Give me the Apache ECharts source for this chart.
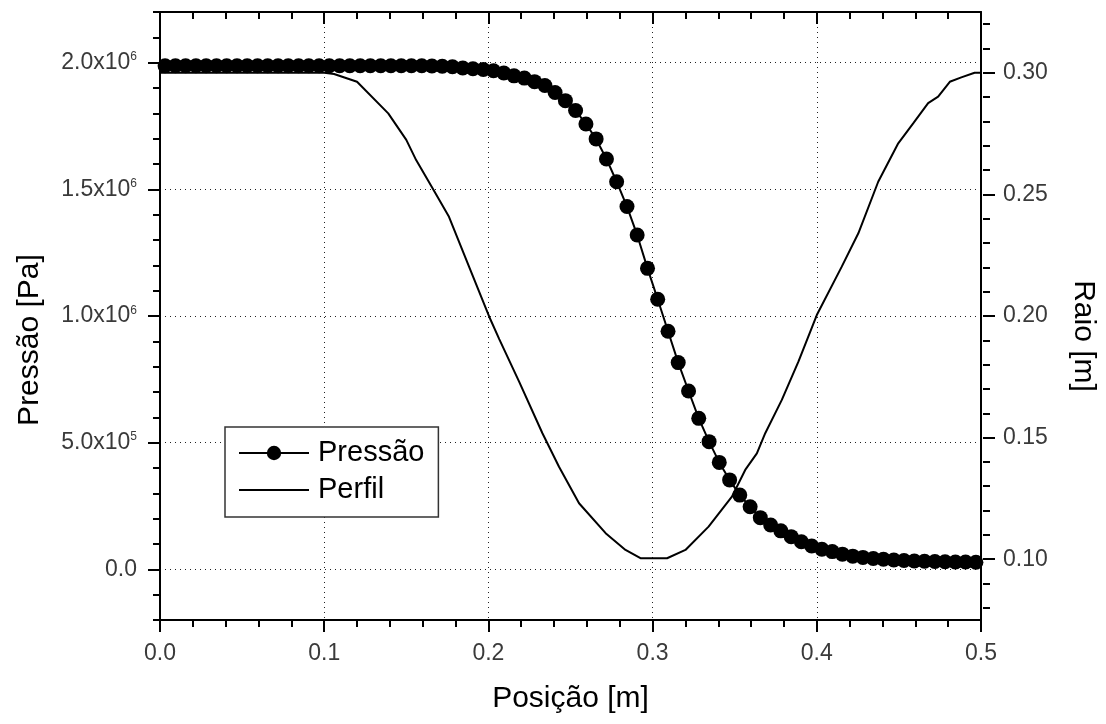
<!DOCTYPE html>
<html>
<head>
<meta charset="utf-8">
<script src="https://cdn.jsdelivr.net/npm/echarts@6/dist/echarts.min.js"></script>
<style>
html,body{margin:0;padding:0;background:#fff;}
#chart{width:1106px;height:724px;}
</style>
</head>
<body>
<div id="chart"></div>
<script>
// ---- data ----
const posicao = [0.0031,0.0094,0.0156,0.0219,0.0281,0.0344,0.0406,0.0469,0.0531,0.0594,
0.0656,0.0719,0.0781,0.0844,0.0906,0.0969,0.1031,0.1094,0.1156,0.1219,
0.1281,0.1344,0.1406,0.1469,0.1531,0.1594,0.1656,0.1719,0.1781,0.1844,
0.1906,0.1969,0.2031,0.2094,0.2156,0.2219,0.2281,0.2344,0.2406,0.2469,
0.2531,0.2594,0.2656,0.2719,0.2781,0.2844,0.2906,0.2969,0.3031,0.3094,
0.3156,0.3219,0.3281,0.3344,0.3406,0.3469,0.3531,0.3594,0.3656,0.3719,
0.3781,0.3844,0.3906,0.3969,0.4031,0.4094,0.4156,0.4219,0.4281,0.4344,
0.4406,0.4469,0.4531,0.4594,0.4656,0.4719,0.4781,0.4844,0.4906,0.4969];

const pressao = [1988000,1988000,1988000,1988000,1988000,1988000,1988000,1988000,1988000,1988000,
1988000,1988000,1988000,1988000,1988000,1988000,1988000,1988000,1988000,1988000,
1988000,1988000,1988000,1988000,1988000,1988000,1987000,1986000,1984000,1979000,
1976000,1973000,1968000,1959000,1948000,1939000,1925000,1910000,1882000,1850000,
1811000,1758000,1699000,1620000,1530000,1432000,1320000,1188000,1066000,940000,
816000,704000,596000,504000,422000,353000,293000,247000,204000,175000,
152000,129000,109000,92000,79000,70000,60000,52000,47000,43000,
40000,37000,35000,33000,32000,31000,30000,29000,29000,28000];

const perfilX = [0,0.100,0.106,0.120,0.139,0.150,0.156,0.166,0.176,0.189,
0.2005,0.2066,0.2187,0.2329,0.243,0.2552,0.2714,0.2835,0.2926,0.3088,
0.320,0.3341,0.3483,0.3564,0.3635,0.3686,0.3787,0.3888,0.400,0.4152,
0.4253,0.4374,0.4496,0.4587,0.4678,0.4739,0.481,0.488,0.4961,0.500];
const perfilR = [0.300,0.300,0.2995,0.2963,0.2833,0.2724,0.2641,0.2525,0.2408,0.2190,
0.1997,0.1905,0.1730,0.1518,0.1380,0.1230,0.1107,0.1038,0.1004,0.1004,
0.1038,0.1134,0.1257,0.1367,0.1435,0.1518,0.1655,0.1812,0.2004,0.2203,
0.2340,0.2552,0.2710,0.2792,0.2875,0.2902,0.2963,0.2981,0.3000,0.3000];

const xTickLabels = ['0.0','0.1','0.2','0.3','0.4','0.5'];
const leftTickMantissa = ['0.0','5.0x10','1.0x10','1.5x10','2.0x10'];
const leftTickExponent = ['','5','6','6','6'];
const rightTickLabels = ['0.10','0.15','0.20','0.25','0.30'];

// ---- chart ----
const FONT = "'Liberation Sans', Arial, sans-serif";
const LBL = '#3a3a3a';
const L = 160, R = 123, T = 12, B = 104; // plot frame
const H = 724 - T - B; // 608
function yPix(v, lo, hi){ return T + (hi - v) / (hi - lo) * H; }
const pLo = -200000, pHi = 2200000;
const rLo = 0.075, rHi = 0.325;
const gMajorL = {top: yPix(2000000,pLo,pHi), bottom: 724 - yPix(0,pLo,pHi)};
const gMinorR = {top: yPix(0.32,rLo,rHi), bottom: 724 - yPix(0.08,rLo,rHi)};
const gMajorR = {top: yPix(0.30,rLo,rHi), bottom: 724 - yPix(0.10,rLo,rHi)};

const axisLineS = {show:true, onZero:false, lineStyle:{color:'#000', width:2}};
const gridDot = {show:true, lineStyle:{color:'#222', width:1, type:[1,4]}};

const chart = echarts.init(document.getElementById('chart'), null, {renderer:'canvas'});
const option = {
  animation:false,
  backgroundColor:'#fff',
  textStyle:{fontFamily:FONT},
  grid:[
    {left:L, right:R, top:T, bottom:B},
    {left:L, right:R, top:gMajorL.top, bottom:gMajorL.bottom},
    {left:L, right:R, top:gMinorR.top, bottom:gMinorR.bottom},
    {left:L, right:R, top:gMajorR.top, bottom:gMajorR.bottom}
  ],
  xAxis:[
    {type:'value', gridIndex:0, position:'bottom', min:0, max:0.5, interval:0.1,
     axisLine:axisLineS,
     axisTick:{show:true, length:12, lineStyle:{color:'#000', width:2}},
     minorTick:{show:true, splitNumber:5, length:7, lineStyle:{color:'#000', width:2}},
     axisLabel:{show:true, margin:22, fontSize:23, color:LBL, fontFamily:FONT,
       formatter:function(v){ return xTickLabels[Math.round(v*10)]; }},
     splitLine:gridDot,
     name:'Posição [m]', nameLocation:'middle', nameGap:64,
     nameTextStyle:{fontSize:30, color:'#000', fontFamily:FONT}},
    {type:'value', gridIndex:0, position:'top', min:0, max:0.5, interval:0.1,
     axisLine:axisLineS,
     axisTick:{show:true, inside:true, length:12, lineStyle:{color:'#000', width:2}},
     minorTick:{show:true, splitNumber:5, length:7, lineStyle:{color:'#000', width:2}},
     axisLabel:{show:false}, splitLine:{show:false}},
    {type:'value', gridIndex:1, min:0, max:0.5, show:false},
    {type:'value', gridIndex:2, min:0, max:0.5, show:false},
    {type:'value', gridIndex:3, min:0, max:0.5, show:false}
  ],
  yAxis:[
    {type:'value', gridIndex:0, position:'left', min:pLo, max:pHi, interval:100000,
     axisLine:axisLineS,
     axisTick:{show:true, length:7, lineStyle:{color:'#000', width:2}},
     axisLabel:{show:false}, splitLine:{show:false},
     name:'Pressão [Pa]', nameLocation:'middle', nameGap:115,
     nameTextStyle:{fontSize:30, color:'#000', fontFamily:FONT, padding:[0,48,0,0]}},
    {type:'value', gridIndex:0, position:'right', min:rLo, max:rHi,
     axisLine:axisLineS,
     axisTick:{show:false}, axisLabel:{show:false}, splitLine:{show:false},
     name:'Raio [m]', nameLocation:'middle', nameGap:87, nameRotate:-90,
     nameTextStyle:{fontSize:30, color:'#000', fontFamily:FONT, padding:[0,0,0,40]}},
    {type:'value', gridIndex:1, position:'left', min:0, max:2000000, interval:500000,
     axisLine:{show:false, onZero:false},
     axisTick:{show:true, length:12, lineStyle:{color:'#000', width:2}},
     axisLabel:{show:true, margin:23, color:LBL, fontFamily:FONT,
       formatter:function(v){
         const i = Math.round(v/500000);
         const e = leftTickExponent[i];
         return e ? '{m|'+leftTickMantissa[i]+'}{e|'+e+'}' : '{m|'+leftTickMantissa[i]+'}';
       },
       rich:{
         m:{fontSize:23, color:LBL, fontFamily:FONT},
         e:{fontSize:12, color:LBL, fontFamily:FONT, verticalAlign:'top'}
       }},
     splitLine:gridDot},
    {type:'value', gridIndex:2, position:'right', min:0.08, max:0.32, interval:0.01,
     axisLine:{show:false, onZero:false},
     axisTick:{show:true, length:7, lineStyle:{color:'#000', width:2}},
     axisLabel:{show:false}, splitLine:{show:false}},
    {type:'value', gridIndex:3, position:'right', min:0.10, max:0.30, interval:0.05,
     axisLine:{show:false, onZero:false},
     axisTick:{show:true, length:12, lineStyle:{color:'#000', width:2}},
     axisLabel:{show:true, margin:20, fontSize:23, color:LBL, fontFamily:FONT,
       formatter:function(v){ return rightTickLabels[Math.round((v-0.10)/0.05)]; }},
     splitLine:{show:false}}
  ],
  legend:{
    show:true, orient:'vertical', left:225, top:427,
    padding:[11,14,12,13], itemGap:7, itemWidth:70, itemHeight:18,
    backgroundColor:'#fff', borderColor:'#333', borderWidth:1.5, borderRadius:0,
    textStyle:{fontSize:29, lineHeight:30, color:'#000', fontFamily:FONT, padding:[0,0,0,4]},
    data:[
      {name:'Pressão'},
      {name:'Perfil', itemStyle:{opacity:0, color:'rgba(0,0,0,0)', borderWidth:0}}
    ]
  },
  series:[
    {name:'Perfil', type:'line', xAxisIndex:0, yAxisIndex:1,
     data: perfilX.map(function(x,i){ return [x, perfilR[i]]; }),
     symbol:'none', lineStyle:{color:'#000', width:2}, itemStyle:{color:'#000'}, z:2},
    {name:'Pressão', type:'line', xAxisIndex:0, yAxisIndex:0,
     data: posicao.map(function(x,i){ return [x, pressao[i]]; }),
     symbol:'circle', symbolSize:15, showAllSymbol:true,
     lineStyle:{color:'#000', width:2}, itemStyle:{color:'#000'}, z:3}
  ]
};
chart.setOption(option);
</script>
</body>
</html>
